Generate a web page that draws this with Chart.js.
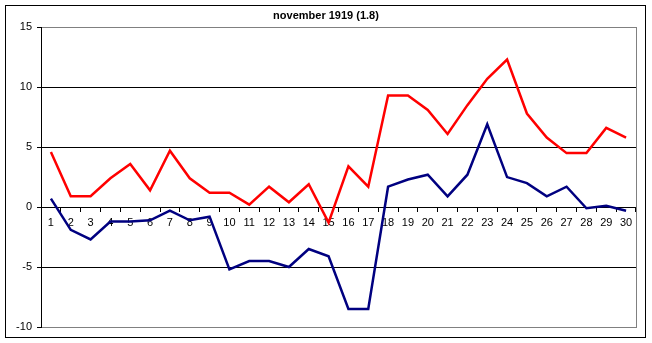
<!DOCTYPE html>
<html>
<head>
<meta charset="utf-8">
<script src="https://cdn.jsdelivr.net/npm/chart.js@4.4.0/dist/chart.umd.min.js"></script>
<style>
  html, body { margin: 0; padding: 0; background: #fff; }
  #wrap { width: 652px; height: 343px; position: relative; }
</style>
</head>
<body>
<div id="wrap"><canvas id="chart" width="652" height="343"></canvas></div>
<script>
// ---------------- DATA ----------------
const days = ["1","2","3","4","5","6","7","8","9","10","11","12","13","14","15",
  "16","17","18","19","20","21","22","23","24","25","26","27","28","29","30"];
const maxTemps = [4.6, 0.9, 0.9, 2.4, 3.6, 1.4, 4.7, 2.4, 1.2, 1.2, 0.2, 1.7, 0.4, 1.9, -1.3,
  3.4, 1.7, 9.3, 9.3, 8.1, 6.1, 8.5, 10.7, 12.3, 7.8, 5.8, 4.5, 4.5, 6.6, 5.8];
const minTemps = [0.7, -1.9, -2.7, -1.2, -1.2, -1.1, -0.3, -1.1, -0.8, -5.2, -4.5, -4.5, -5.0, -3.5, -4.1,
  -8.5, -8.5, 1.7, 2.3, 2.7, 0.9, 2.7, 6.9, 2.5, 2.0, 0.9, 1.7, -0.1, 0.1, -0.3];
const yMin = -10, yMax = 15, yStep = 5;
const chartTitle = "november 1919 (1.8)";

const FONT = "'Liberation Sans', Arial, sans-serif";

// black frame around the whole chart
const framePlugin = {
  id: "frame",
  afterDraw(chart) {
    const c = chart.ctx;
    c.save();
    c.lineWidth = 1;
    c.strokeStyle = "#000";
    c.strokeRect(5.5, 5.5, 640, 332);
    c.restore();
  }
};

// ---------------- CHART ----------------
const ctx = document.getElementById("chart").getContext("2d");
new Chart(ctx, {
  type: "line",
  data: {
    labels: days,
    datasets: [
      {
        label: "max",
        data: maxTemps,
        borderColor: "#ff0000",
        borderWidth: 2.5,
        pointRadius: 0,
        tension: 0,
        fill: false
      },
      {
        label: "min",
        data: minTemps,
        borderColor: "#000080",
        borderWidth: 2.5,
        pointRadius: 0,
        tension: 0,
        fill: false
      }
    ]
  },
  options: {
    responsive: false,
    animation: false,
    layout: { padding: { left: 0, right: 0, top: 0, bottom: 16 } },
    plugins: {
      legend: { display: false },
      tooltip: { enabled: false },
      title: {
        display: true,
        text: chartTitle,
        color: "#000",
        font: { family: FONT, size: 11, weight: "bold" },
        padding: { top: 9, bottom: 5 }
      }
    },
    scales: {
      x: {
        position: { y: 0 },
        offset: true,
        grid: {
          offset: true,
          drawOnChartArea: false,
          drawTicks: true,
          tickLength: 4,
          color: "#000"
        },
        border: { color: "#000", width: 1 },
        ticks: {
          color: "#000",
          font: { family: FONT, size: 11 },
          padding: 5,
          maxRotation: 0,
          autoSkip: false
        }
      },
      y: {
        min: yMin,
        max: yMax,
        afterFit(scale) { scale.width = 41; },
        grid: {
          color: c => (c.tick && (c.tick.value === yMax || c.tick.value === yMin)) ? "#808080" : "#000",
          tickColor: "#000",
          tickLength: 4,
          lineWidth: 1
        },
        border: { color: "#000", width: 1 },
        ticks: {
          stepSize: yStep,
          color: "#000",
          font: { family: FONT, size: 11 },
          padding: 5
        }
      },
      // right edge of plot area (gray border)
      yRight: {
        position: "right",
        min: yMin,
        max: yMax,
        afterFit(scale) { scale.width = 16; },
        grid: { display: false, drawOnChartArea: false },
        border: { color: "#808080", width: 1 },
        ticks: { display: false }
      }
    }
  },
  plugins: [framePlugin]
});
</script>
</body>
</html>
